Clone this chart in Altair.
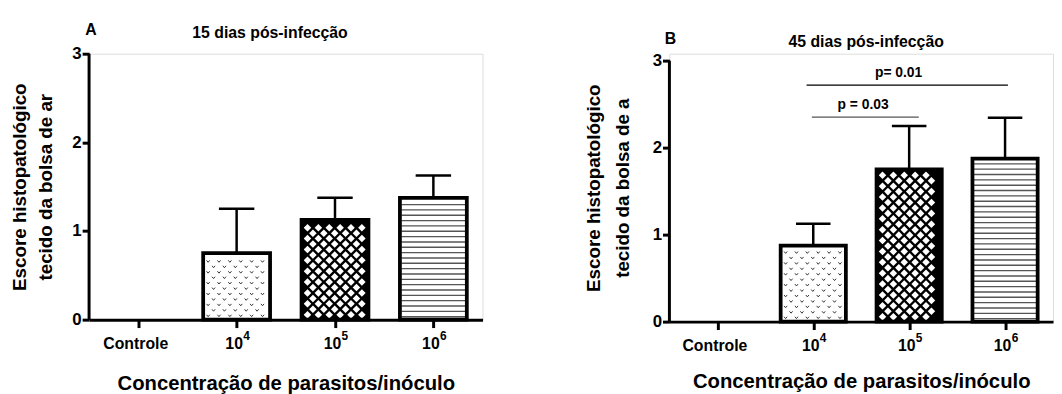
import json
import altair as alt
import pandas as pd

# ---------------- data ----------------
cat_base = ["Controle", "10", "10", "10"]
cat_exp = ["", "4", "5", "6"]
fill_style = ["plain", "dots", "cross", "lines"]

mean_15 = [0.0, 0.75, 1.125, 1.375]
sem_15 = [0.0, 0.50, 0.25, 0.25]

mean_45 = [0.0, 0.875, 1.75, 1.875]
sem_45 = [0.0, 0.25, 0.50, 0.47]

sig_text = ["p = 0.03", "p= 0.01"]
sig_from = [0.985, 0.93]
sig_to = [2.10, 3.03]
sig_line_y = [2.35, 2.72]
sig_line_color = ["#555555", "#000000"]
sig_text_x = [1.52, 1.89]
sig_text_y = [2.41, 2.78]

FONT = "Liberation Sans"
HALF = 0.34      # half bar width (category units)
CAP = 0.18       # half cap width
XTITLE = "Concentração de parasitos/inóculo"


def bar_frame(means, sems):
    rows = []
    for i, (c, e, m, s, f) in enumerate(zip(cat_base, cat_exp, means, sems, fill_style)):
        rows.append(dict(cat=c, exp=e, idx=i, x1=i - HALF, x2=i + HALF, c1=i - CAP, c2=i + CAP,
                         base=0.0, mean=m, top=m + s, sem=s, style=f))
    return pd.DataFrame(rows)


def textures(df, W, H, ymax):
    ux = 4.0 / W
    uy = ymax / H
    dots, dias, lines = [], [], []
    for r in df.itertuples():
        if r.mean <= 0:
            continue
        top_px = r.mean / uy
        left_px = (r.x1 + 0.5) / ux
        right_px = (r.x2 + 0.5) / ux
        if r.style == "dots":
            row = 0
            ypx = 4.0
            while ypx < top_px - 3.5:
                xpx = left_px + 5.0 + (5.5 if row % 2 else 0.0)
                while xpx < right_px - 3.5:
                    dots.append(dict(x=xpx * ux - 0.5, y=ypx * uy))
                    xpx += 11.0
                ypx += 5.5
                row += 1
        elif r.style == "cross":
            row = 0
            ypx = 5.0
            while ypx < top_px - 4.5:
                xpx = left_px + 6.0 + (5.5 if row % 2 else 0.0)
                while xpx < right_px - 5.5:
                    dias.append(dict(x=xpx * ux - 0.5, y=ypx * uy))
                    xpx += 11.0
                ypx += 5.5
                row += 1
        elif r.style == "lines":
            ypx = 3.0
            while ypx < top_px - 2.5:
                lines.append(dict(x1=(left_px + 1.5) * ux - 0.5, x2=(right_px - 1.5) * ux - 0.5,
                                  y=ypx * uy))
                ypx += 5.4
    return pd.DataFrame(dots), pd.DataFrame(dias), pd.DataFrame(lines)


label_expr = "%s[datum.value]" % json.dumps(cat_base, ensure_ascii=False)


def panel(means, sems, W, H, ymax, title, title_x, title_y, letter, letter_x, letter_y,
          ytitle, ytitle_pad, ytitle_lh, xtitle_pad, with_sig):
    df = bar_frame(means, sems)
    dfb = df[df["mean"] > 0]
    dfe = df[df["sem"] > 0]
    dfx = df[df["exp"] != ""]
    dots, dias, lines = textures(df, W, H, ymax)

    xs = alt.Scale(domain=[-0.5, 3.5], nice=False, zero=False)
    ys = alt.Scale(domain=[0, ymax], nice=False, zero=True)
    xaxis = alt.Axis(values=[0, 1, 2, 3], labelExpr=label_expr, grid=False,
                     domainColor="black", domainWidth=3, tickColor="black", tickWidth=3,
                     tickSize=8, labelFont=FONT, labelFontSize=16, labelFontWeight="bold",
                     labelColor="black", labelPadding=8, labelOffset=-3,
                     titleFont=FONT, titleFontSize=20.5,
                     titleFontWeight="bold", titleColor="black", titlePadding=xtitle_pad)
    yaxis = alt.Axis(values=[0, 1, 2, 3], format="d", grid=False, domain=False,
                     tickColor="black", tickWidth=3,
                     tickSize=7, labelFont=FONT, labelFontSize=17, labelFontWeight="bold",
                     labelColor="black", labelPadding=1, titleFont=FONT, titleFontSize=19,
                     titleFontWeight="bold", titleColor="black", titlePadding=ytitle_pad,
                     titleLineHeight=ytitle_lh)

    def X(f):
        return alt.X(f, scale=xs, axis=xaxis, title=XTITLE)

    def Y(f):
        return alt.Y(f, scale=ys, axis=yaxis, title=ytitle)

    # y axis line from 0 to the last tick value
    axis_df = pd.DataFrame(dict(x=[-0.5], y1=[0.0], y2=[3.0]))
    axis_line = alt.Chart(axis_df).mark_rule(color="black", strokeWidth=3).encode(
        x=X("x:Q"), y=Y("y1:Q"), y2="y2:Q")

    fill = alt.Chart(dfb).mark_rect(strokeWidth=0).encode(
        x=X("x1:Q"), x2="x2:Q", y=Y("base:Q"), y2="mean:Q",
        fill=alt.Fill("style:N", scale=alt.Scale(domain=["dots", "cross", "lines"],
                                                 range=["white", "black", "white"]),
                      legend=None))
    layers = [fill, axis_line]
    if len(dots):
        layers.append(alt.Chart(dots).mark_point(
            shape="M-1,-0.6L0,0.6L1,-0.6", filled=False, strokeWidth=1, size=10,
            color="#333333", opacity=1).encode(x=X("x:Q"), y=Y("y:Q")))
    if len(dias):
        layers.append(alt.Chart(dias).mark_point(
            shape="diamond", filled=True, size=58, color="white", opacity=1,
            strokeWidth=0).encode(x=X("x:Q"), y=Y("y:Q")))
    if len(lines):
        layers.append(alt.Chart(lines).mark_rule(color="#555555", strokeWidth=1.4).encode(
            x=X("x1:Q"), x2="x2:Q", y=Y("y:Q")))
    outline = alt.Chart(dfb).mark_rect(fillOpacity=0, stroke="black", strokeWidth=3.8).encode(
        x=X("x1:Q"), x2="x2:Q", y=Y("base:Q"), y2="mean:Q")
    stem = alt.Chart(dfe).mark_rule(color="black", strokeWidth=2.5).encode(
        x=X("idx:Q"), y=Y("mean:Q"), y2="top:Q")
    cap = alt.Chart(dfe).mark_rule(color="black", strokeWidth=2.5).encode(
        x=X("c1:Q"), x2="c2:Q", y=Y("top:Q"))
    layers += [outline, stem, cap]

    # exponents of the tick labels
    layers.append(alt.Chart(dfx).mark_text(font=FONT, fontSize=12, fontWeight="bold",
                                           color="black", baseline="top", align="center",
                                           dx=10).encode(
        x=X("idx:Q"), y=alt.value(H + 12), text="exp:N"))

    if with_sig:
        sdf = pd.DataFrame(dict(t=sig_text, x1=sig_from, x2=sig_to, y=sig_line_y,
                                col=sig_line_color, tx=sig_text_x, ty=sig_text_y))
        layers.append(alt.Chart(sdf).mark_rule(strokeWidth=1.3).encode(
            x=X("x1:Q"), x2="x2:Q", y=Y("y:Q"), color=alt.Color("col:N", scale=None)))
        layers.append(alt.Chart(sdf).mark_text(font=FONT, fontSize=14, fontWeight="bold",
                                               baseline="bottom", color="black").encode(
            x=X("tx:Q"), y=Y("ty:Q"), text="t:N"))

    head_df = pd.DataFrame(dict(t=[letter], title=[title]))
    layers.append(alt.Chart(head_df).mark_text(font=FONT, fontSize=16, fontWeight="bold",
                                               baseline="alphabetic", align="center",
                                               color="black").encode(
        x=alt.value(letter_x), y=alt.value(letter_y), text="t:N"))
    layers.append(alt.Chart(head_df).mark_text(font=FONT, fontSize=16, fontWeight="bold",
                                               baseline="alphabetic", align="center",
                                               color="black").encode(
        x=alt.value(title_x), y=alt.value(title_y), text="title:N"))

    return alt.layer(*layers).properties(width=W, height=H)


pa = panel(mean_15, sem_15, 398, 269, 3.0, "15 dias pós-infecção", 183, -16, "A", 2, -19,
           ["Escore histopatológico", "tecido da bolsa de ar"], 17, 26, 23, False)
pb = panel(mean_45, sem_45, 388, 271, 3.08, "45 dias pós-infecção", 199, -7, "B", 1, -10,
           ["Escore histopatológico", "tecido da bolsa de a"], 20, 29, 19, True)

chart = alt.hconcat(pa, pb, spacing=102).properties(
    padding={"left": 2, "top": 11, "right": 0, "bottom": 0}
).configure_view(stroke="transparent").configure(font=FONT)

chart.save("out.html", embed_options={"renderer": "svg", "actions": False})
